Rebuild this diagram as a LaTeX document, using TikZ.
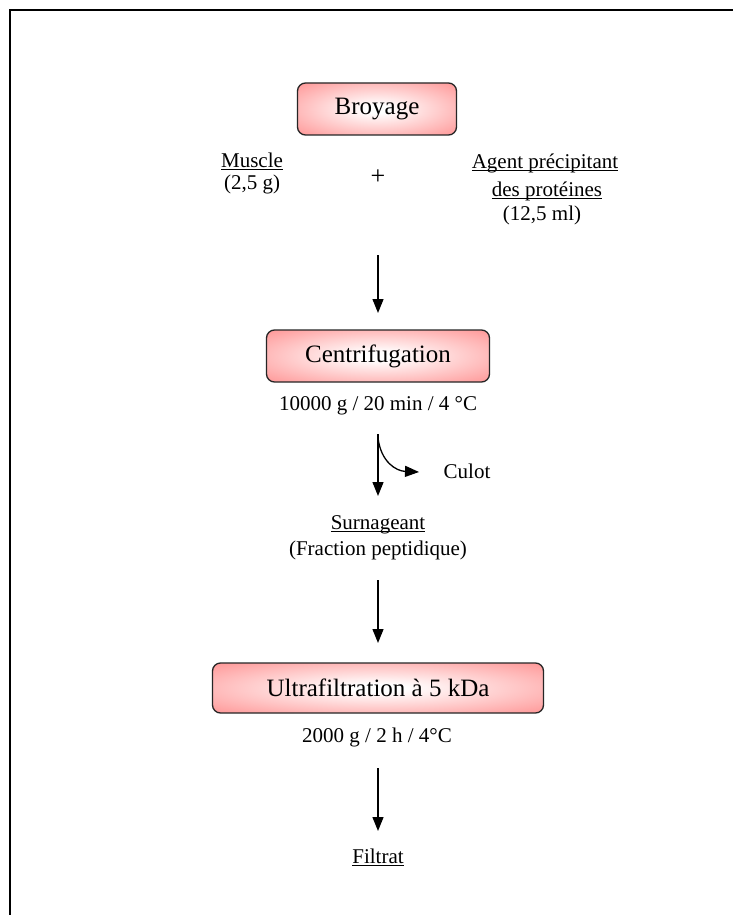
\documentclass[tikz,border=0pt]{standalone}
\usepackage{fontspec}
\setmainfont{Liberation Serif}
\usetikzlibrary{arrows.meta}
\definecolor{boxpink}{RGB}{255,136,136}
\pgfdeclareradialshading{boxshade}{\pgfpoint{0bp}{0bp}}{color(0bp)=(white); color(4bp)=(white); color(40bp)=(boxpink); color(50bp)=(boxpink)}
\newcommand\myul[1]{\setbox0\hbox{#1}\rlap{\rule[-3pt]{\wd0}{0.9pt}}\box0}
\begin{document}
\begin{tikzpicture}[x=1pt,y=-1pt,
  stepbox/.style={draw=black!85, line width=1.3pt, rounded corners=8pt, shade, shading=boxshade, minimum height=52pt, inner sep=0pt, font=\fontsize{25}{28}\selectfont},
  txt/.style={font=\fontsize{21}{24}\selectfont, inner sep=0pt, anchor=base},
  arr/.style={line width=1.3pt, -{Triangle[width=11pt,length=14pt]}}]
\useasboundingbox (0,0) rectangle (733,915);
\fill[white] (0,0) rectangle (733,915);
\draw[line width=1.6pt] (10,915) -- (10,10) -- (733,10);

% boxes
\node[stepbox, minimum width=159pt] (broyage) at (377,109) {Broyage};
\node[stepbox, minimum width=223pt] (centri) at (378,356) {Centrifugation};
\node[stepbox, minimum width=331pt, minimum height=50pt] (ultra) at (378,688) {Ultrafiltration à 5 kDa};

% texts
\node[txt] (muscle) at (252,167) {\myul{Muscle}};
\node[txt] (muscleq) at (252,189) {(2,5 g)};
\node[txt, anchor=center, font=\fontsize{26}{28}\selectfont] (plus) at (378,177) {+};
\node[txt] (agent1) at (545,168) {\myul{Agent précipitant}};
\node[txt] (agent2) at (547,196) {\myul{des protéines}};
\node[txt] (agent3) at (542,220) {(12,5 ml)};
\node[txt] (cond1) at (378,410) {10000 g / 20 min / 4 °C};
\node[txt] (culot) at (467,478) {Culot};
\node[txt] (surn) at (378,529) {\myul{Surnageant}};
\node[txt] (frac) at (378,555) {(Fraction peptidique)};
\node[txt] (cond2) at (377,742) {2000 g / 2 h / 4°C};
\node[txt] (filtrat) at (378,863) {\myul{Filtrat}};

% arrows
\coordinate (a1s) at (378,255); \coordinate (a1e) at (378,313);
\coordinate (a2s) at (378,434); \coordinate (a2e) at (378,496);
\coordinate (a2b) at (378,438); \coordinate (a2c) at (419,472);
\coordinate (a3s) at (378,580); \coordinate (a3e) at (378,643);
\coordinate (a4s) at (378,768); \coordinate (a4e) at (378,831);
\draw[arr] (a1s) -- (a1e);
\draw[arr] (a2s) -- (a2e);
\draw[arr] (a2b) .. controls (381,462) and (396,471) .. (a2c);
\draw[arr] (a3s) -- (a3e);
\draw[arr] (a4s) -- (a4e);
\end{tikzpicture}
\end{document}
